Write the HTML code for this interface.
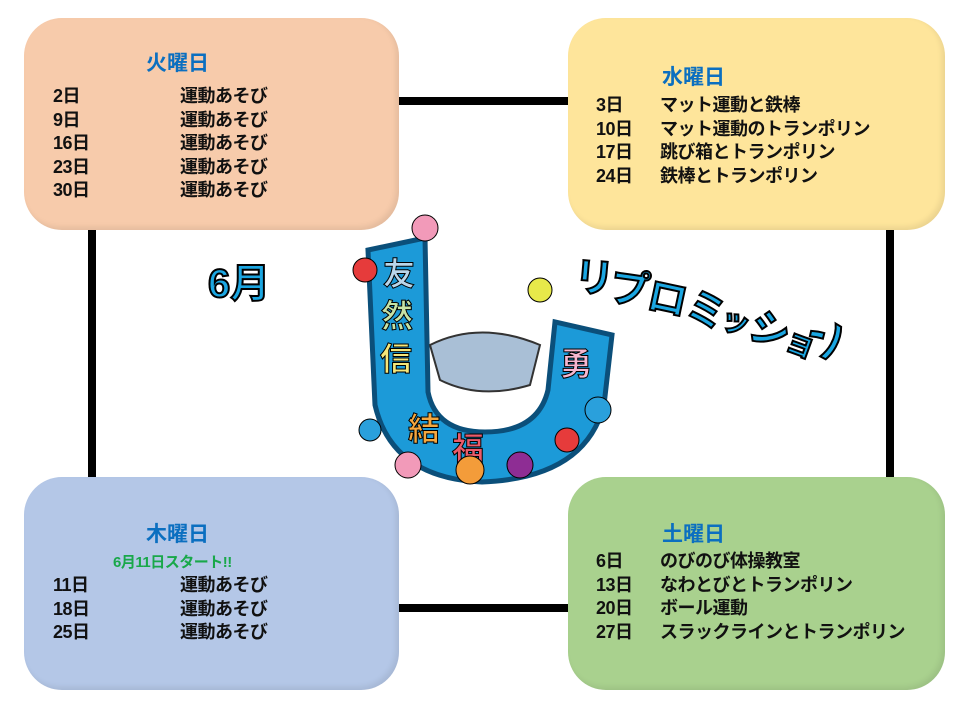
<!DOCTYPE html>
<html><head><meta charset="utf-8"><style>
body{margin:0;width:960px;height:713px;background:#fff;position:relative;overflow:hidden;font-family:"Liberation Sans","Noto Sans CJK JP",sans-serif;}
.ln{position:absolute;background:#000}
.bx{position:absolute;border-radius:38px;box-shadow:inset -3px -3px 6px rgba(0,0,0,.08)}
.t{position:absolute;font-weight:bold;color:#0b6fc0;font-size:21px}
.r{position:absolute;font-weight:bold;font-size:18px;line-height:23.5px;color:#111;white-space:pre;letter-spacing:-0.5px}
</style></head><body>
<div class="ln" style="left:398px;top:97px;width:172px;height:8px"></div>
<div class="ln" style="left:398px;top:604px;width:172px;height:8px"></div>
<div class="ln" style="left:88px;top:228px;width:8px;height:252px"></div>
<div class="ln" style="left:886px;top:228px;width:8px;height:252px"></div>

<div class="bx" style="left:24px;top:18px;width:375px;height:212px;background:#f7cbab"></div>
<div class="bx" style="left:568px;top:18px;width:377px;height:212px;background:#fee59b"></div>
<div class="bx" style="left:24px;top:477px;width:375px;height:213px;background:#b4c7e7"></div>
<div class="bx" style="left:568px;top:477px;width:377px;height:213px;background:#a9d18e"></div>

<div class="t" style="left:146px;top:47px">火曜日</div>
<div class="r" style="left:53px;top:85px">2日
9日
16日
23日
30日</div>
<div class="r" style="left:180px;top:85px">運動あそび
運動あそび
運動あそび
運動あそび
運動あそび</div>

<div class="t" style="left:662px;top:61px">水曜日</div>
<div class="r" style="left:596px;top:94px">3日
10日
17日
24日</div>
<div class="r" style="left:660px;top:94px">マット運動と鉄棒
マット運動のトランポリン
跳び箱とトランポリン
鉄棒とトランポリン</div>

<div class="t" style="left:146px;top:518px">木曜日</div>
<div class="r" style="left:113px;top:551px;color:#19a84a;font-size:15px">6月11日スタート!!</div>
<div class="r" style="left:53px;top:574px">11日
18日
25日</div>
<div class="r" style="left:180px;top:574px">運動あそび
運動あそび
運動あそび</div>

<div class="t" style="left:662px;top:518px">土曜日</div>
<div class="r" style="left:596px;top:550px">6日
13日
20日
27日</div>
<div class="r" style="left:660px;top:550px">のびのび体操教室
なわとびとトランポリン
ボール運動
スラックラインとトランポリン</div>

<svg style="position:absolute;left:0;top:0" width="960" height="713">
<text x="208" y="297" font-size="40" font-weight="bold" fill="#1ba6e1" stroke="#000" stroke-width="2" font-family="Liberation Sans,Noto Sans CJK JP,sans-serif">6月</text>
<g font-size="40" font-weight="bold" fill="#1ba6e1" stroke="#000" stroke-width="2" font-family="Noto Sans CJK JP,sans-serif">
<text transform="translate(573,290) rotate(5)">リ</text>
<text transform="translate(608,300) rotate(8)">プ</text>
<text transform="translate(645,308) rotate(12)">ロ</text>
<text transform="translate(683,318) rotate(16)">ミ</text>
<text transform="translate(718,326) rotate(20)" font-size="30">ッ</text>
<text transform="translate(746,336) rotate(22)">シ</text>
<text transform="translate(782,348) rotate(20)" font-size="32">ョ</text>
<text transform="translate(818,362) rotate(-30)">ン</text>
</g>
<path d="M368,250 L375,405 Q392,478 482,482 Q585,478 604,405 L612,335 L555,322 L548,390 Q538,432 485,432 Q436,432 428,392 L425,238 Z" fill="#1c9ad8" stroke="#0b4f7a" stroke-width="5"/>
<path d="M430,345 Q480,320 540,345 L530,385 Q480,400 440,380 Z" fill="#a9bfd6" stroke="#333" stroke-width="2"/>
<g font-size="32" font-weight="bold" font-family="Noto Sans CJK JP,sans-serif" stroke="#000" stroke-width="1">
<text x="383" y="285" fill="#b9d6ea">友</text>
<text x="381" y="327" fill="#c7e3a5">然</text>
<text x="380" y="370" fill="#f5e77a">信</text>
<text x="408" y="440" fill="#f4a73f">結</text>
<text x="452" y="460" fill="#ec5b6b">福</text>
<text x="560" y="375" fill="#f7b7d0">勇</text>
</g>
<circle cx="425" cy="228" r="13" fill="#f29ab9" stroke="#000"/>
<circle cx="365" cy="270" r="12" fill="#e63b3b" stroke="#000"/>
<circle cx="540" cy="290" r="12" fill="#e7e94a" stroke="#000"/>
<circle cx="598" cy="410" r="13" fill="#2aa0dc" stroke="#000"/>
<circle cx="567" cy="440" r="12" fill="#e63b3b" stroke="#000"/>
<circle cx="470" cy="470" r="14" fill="#f39c3a" stroke="#000"/>
<circle cx="520" cy="465" r="13" fill="#8e2d94" stroke="#000"/>
<circle cx="408" cy="465" r="13" fill="#f29ab9" stroke="#000"/>
<circle cx="370" cy="430" r="11" fill="#2aa0dc" stroke="#000"/>
</svg>
</body></html>
